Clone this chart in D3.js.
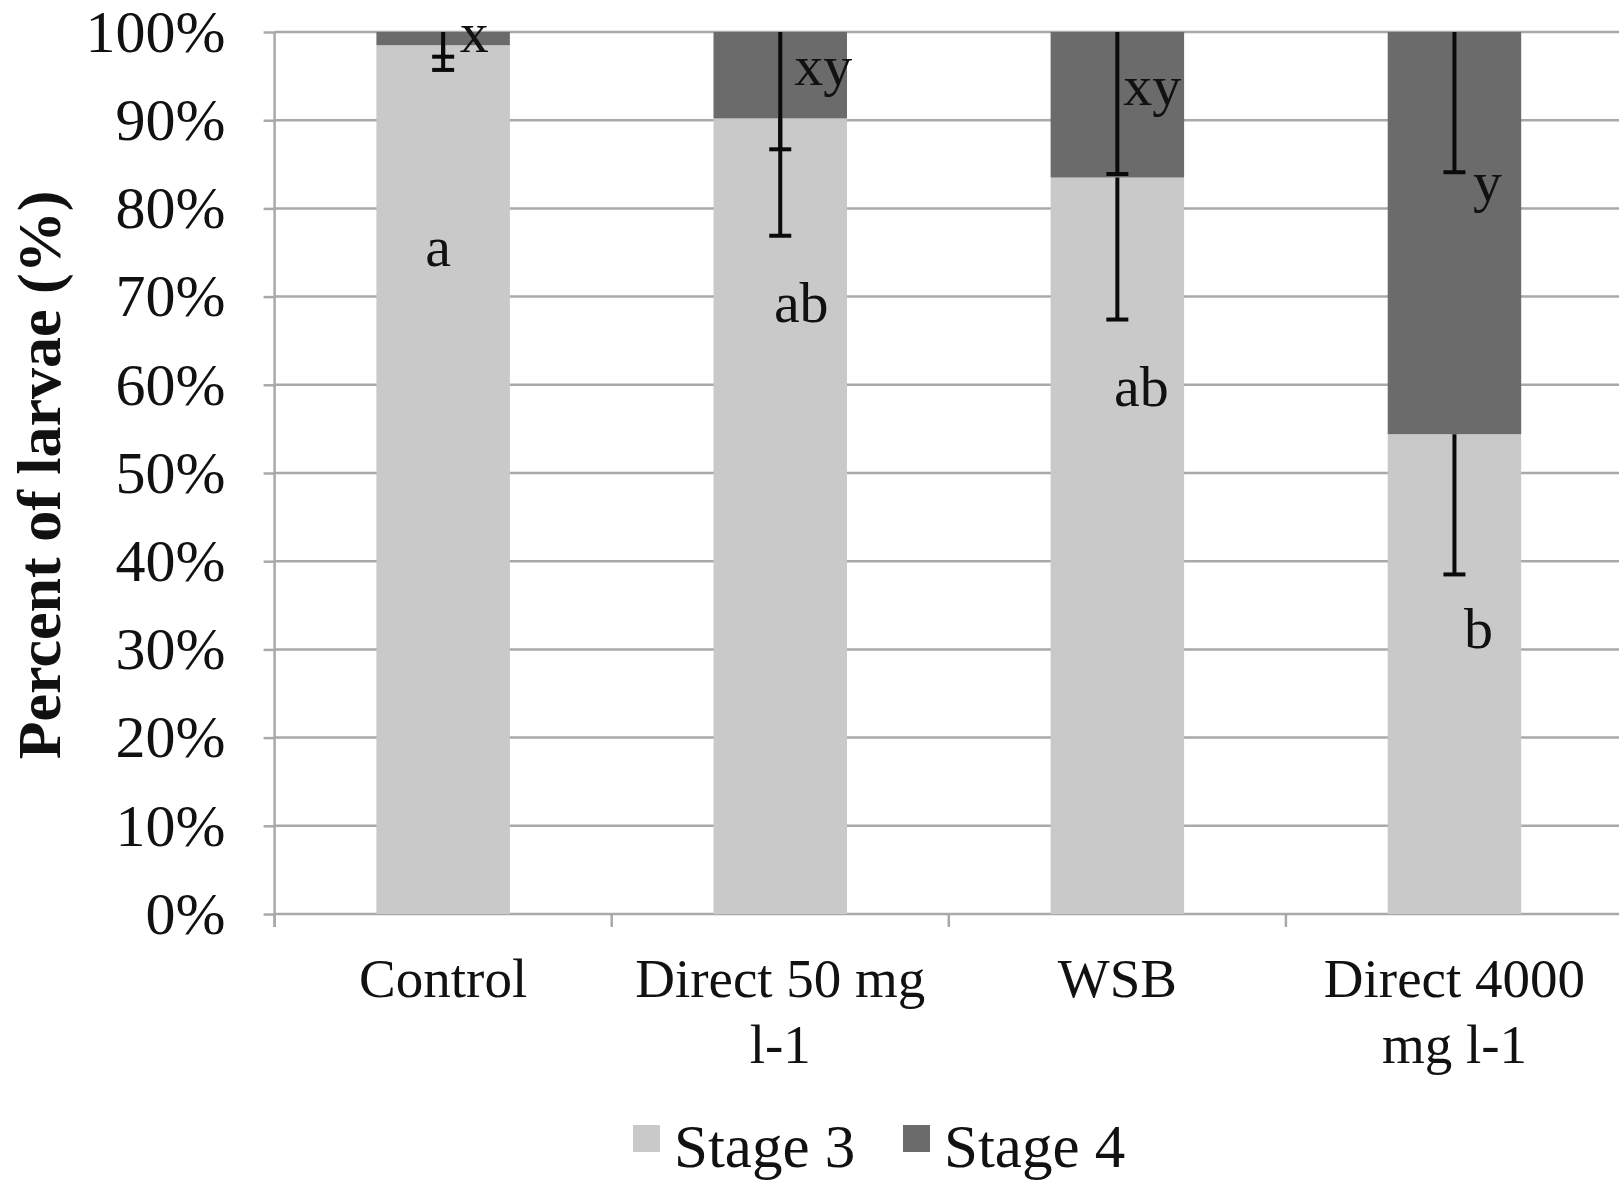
<!DOCTYPE html>
<html>
<head>
<meta charset="utf-8">
<script src="https://cdn.jsdelivr.net/npm/d3@7"></script>
<style>
  html, body { margin: 0; padding: 0; background: #ffffff; }
  svg { display: block; }
  text { font-family: "Liberation Serif", "Times New Roman", serif; fill: #111; }
</style>
</head>
<body>
<svg id="chart" width="1619" height="1192"></svg>
<script>
// ---- data ----
const categories = ["Control", "Direct 50 mg l-1", "WSB", "Direct 4000 mg l-1"];
const seriesNames = ["Stage 3", "Stage 4"];
const stage3 = [98.5, 90.2, 83.5, 54.4];
const stage4 = [1.5, 9.8, 16.5, 45.6];
const stage3Err = [2.8, 13.3, 16.1, 15.9];
const stage4Err = [2.8, 13.3, 16.1, 15.9];
const stage3Letters = ["a", "ab", "ab", "b"];
const stage4Letters = ["x", "xy", "xy", "y"];
const yTicks = [0, 10, 20, 30, 40, 50, 60, 70, 80, 90, 100];
const yTitle = "Percent of larvae (%)";
const colors = ["#c9c9c9", "#6b6b6b"];

// ---- layout ----
const W = 1619, H = 1192;
const axisX = 274.6;
const plotW = 337.1 * categories.length;
const y0px = 914, y100px = 32;

const svg = d3.select("#chart");

const x = d3.scaleBand().domain(categories).range([axisX, axisX + plotW])
  .paddingInner(0.604).paddingOuter(0.302);
const y = d3.scaleLinear().domain([0, 100]).range([y0px, y100px]);

const gridColor = "#a9a9a9";

// gridlines
svg.append("g").selectAll("line").data(yTicks).join("line")
  .attr("x1", axisX).attr("x2", W)
  .attr("y1", d => y(d)).attr("y2", d => y(d))
  .attr("stroke", gridColor).attr("stroke-width", 2.5);

// bars (stacked)
const stackData = categories.map((c, i) => ({cat: c, "Stage 3": stage3[i], "Stage 4": stage4[i]}));
const stacked = d3.stack().keys(seriesNames)(stackData);
svg.append("g").selectAll("g").data(stacked).join("g")
  .attr("fill", (d, i) => colors[i])
  .selectAll("rect").data(d => d).join("rect")
  .attr("x", d => x(d.data.cat))
  .attr("width", x.bandwidth())
  .attr("y", d => y(d[1]))
  .attr("height", d => y(d[0]) - y(d[1]));

// y axis
const yAxis = d3.axisLeft(y).tickValues(yTicks).tickFormat(d => d + "%")
  .tickSizeInner(11).tickSizeOuter(0).tickPadding(38);
const gy = svg.append("g").attr("transform", `translate(${axisX},0)`).call(yAxis);
gy.select(".domain").attr("stroke", gridColor).attr("stroke-width", 2.5)
  .attr("d", `M0,${y(100)}V${y(0) + 13}`);
gy.selectAll(".tick line").attr("stroke", gridColor).attr("stroke-width", 2.5);
gy.selectAll(".tick text").attr("font-size", 60).attr("fill", "#111")
  .attr("font-family", '"Liberation Serif", "Times New Roman", serif');

// x axis (labels) and boundary ticks
const xAxis = d3.axisBottom(x).tickSize(0).tickPadding(0);
const gx = svg.append("g").attr("transform", `translate(0,${y(0)})`).call(xAxis);
gx.select(".domain").remove();
gx.selectAll(".tick text").attr("font-size", 55).attr("fill", "#111")
  .attr("font-family", '"Liberation Serif", "Times New Roman", serif')
  .attr("y", 83).attr("dy", 0)
  .each(function(d) {
    const t = d3.select(this);
    const words = d.split(" ");
    t.text(null);
    let line = [], lineNo = 0;
    let tspan = t.append("tspan").attr("x", 0).attr("y", 83);
    for (const w of words) {
      line.push(w);
      tspan.text(line.join(" "));
      if (tspan.node().getComputedTextLength() > 320 && line.length > 1) {
        line.pop();
        tspan.text(line.join(" "));
        line = [w];
        lineNo++;
        tspan = t.append("tspan").attr("x", 0).attr("y", 83 + lineNo * 66).text(w);
      }
    }
  });
const boundaries = d3.range(categories.length + 1).map(i => axisX + i * x.step());
svg.append("g").selectAll("line").data(boundaries).join("line")
  .attr("x1", d => d).attr("x2", d => d)
  .attr("y1", y(0)).attr("y2", y(0) + 13)
  .attr("stroke", gridColor).attr("stroke-width", 2.5);

// error bars (minus direction)
const cx = c => x(c) + x.bandwidth() / 2;
const errData = [];
categories.forEach((c, i) => {
  errData.push({cat: c, top: stage3[i], bot: stage3[i] - stage3Err[i]});
  errData.push({cat: c, top: stage3[i] + stage4[i], bot: stage3[i] + stage4[i] - stage4Err[i]});
});
const eg = svg.append("g").attr("stroke", "#0a0a0a").attr("stroke-width", 4);
eg.selectAll("line.v").data(errData).join("line").attr("class", "v")
  .attr("x1", d => cx(d.cat)).attr("x2", d => cx(d.cat))
  .attr("y1", d => y(d.top)).attr("y2", d => y(d.bot));
eg.selectAll("line.cap").data(errData).join("line").attr("class", "cap")
  .attr("x1", d => cx(d.cat) - 11).attr("x2", d => cx(d.cat) + 11)
  .attr("y1", d => y(d.bot)).attr("y2", d => y(d.bot));

// significance letters (anchor in data units: percent; horizontal offset from bar centre)
const letterPos3 = [{v: 73.5, dx: -5}, {v: 67.1, dx: 21}, {v: 57.6, dx: 24}, {v: 30.2, dx: 24}];
const letterPos4 = [{v: 97.7, dx: 31}, {v: 94.0, dx: 43}, {v: 91.7, dx: 35}, {v: 80.8, dx: 33}];
const letters = [];
categories.forEach((c, i) => {
  letters.push({cat: c, t: stage3Letters[i], ...letterPos3[i]});
  letters.push({cat: c, t: stage4Letters[i], ...letterPos4[i]});
});
svg.append("g").selectAll("text").data(letters).join("text")
  .attr("x", d => cx(d.cat) + d.dx).attr("y", d => y(d.v))
  .attr("text-anchor", "middle").attr("font-size", 58)
  .text(d => d.t);

// y title
svg.append("text")
  .attr("transform", `translate(60,${475}) rotate(-90)`)
  .attr("text-anchor", "middle").attr("font-size", 62).attr("font-weight", "bold")
  .text(yTitle);

// legend
const legendX = [633, 903];
const lg = svg.append("g").selectAll("g").data(seriesNames).join("g")
  .attr("transform", (d, i) => `translate(${legendX[i]},1125)`);
lg.append("rect").attr("width", 27).attr("height", 27).attr("fill", (d, i) => colors[i]);
lg.append("text").attr("x", 41).attr("y", 42).attr("font-size", 61).text(d => d);
</script>
</body>
</html>
